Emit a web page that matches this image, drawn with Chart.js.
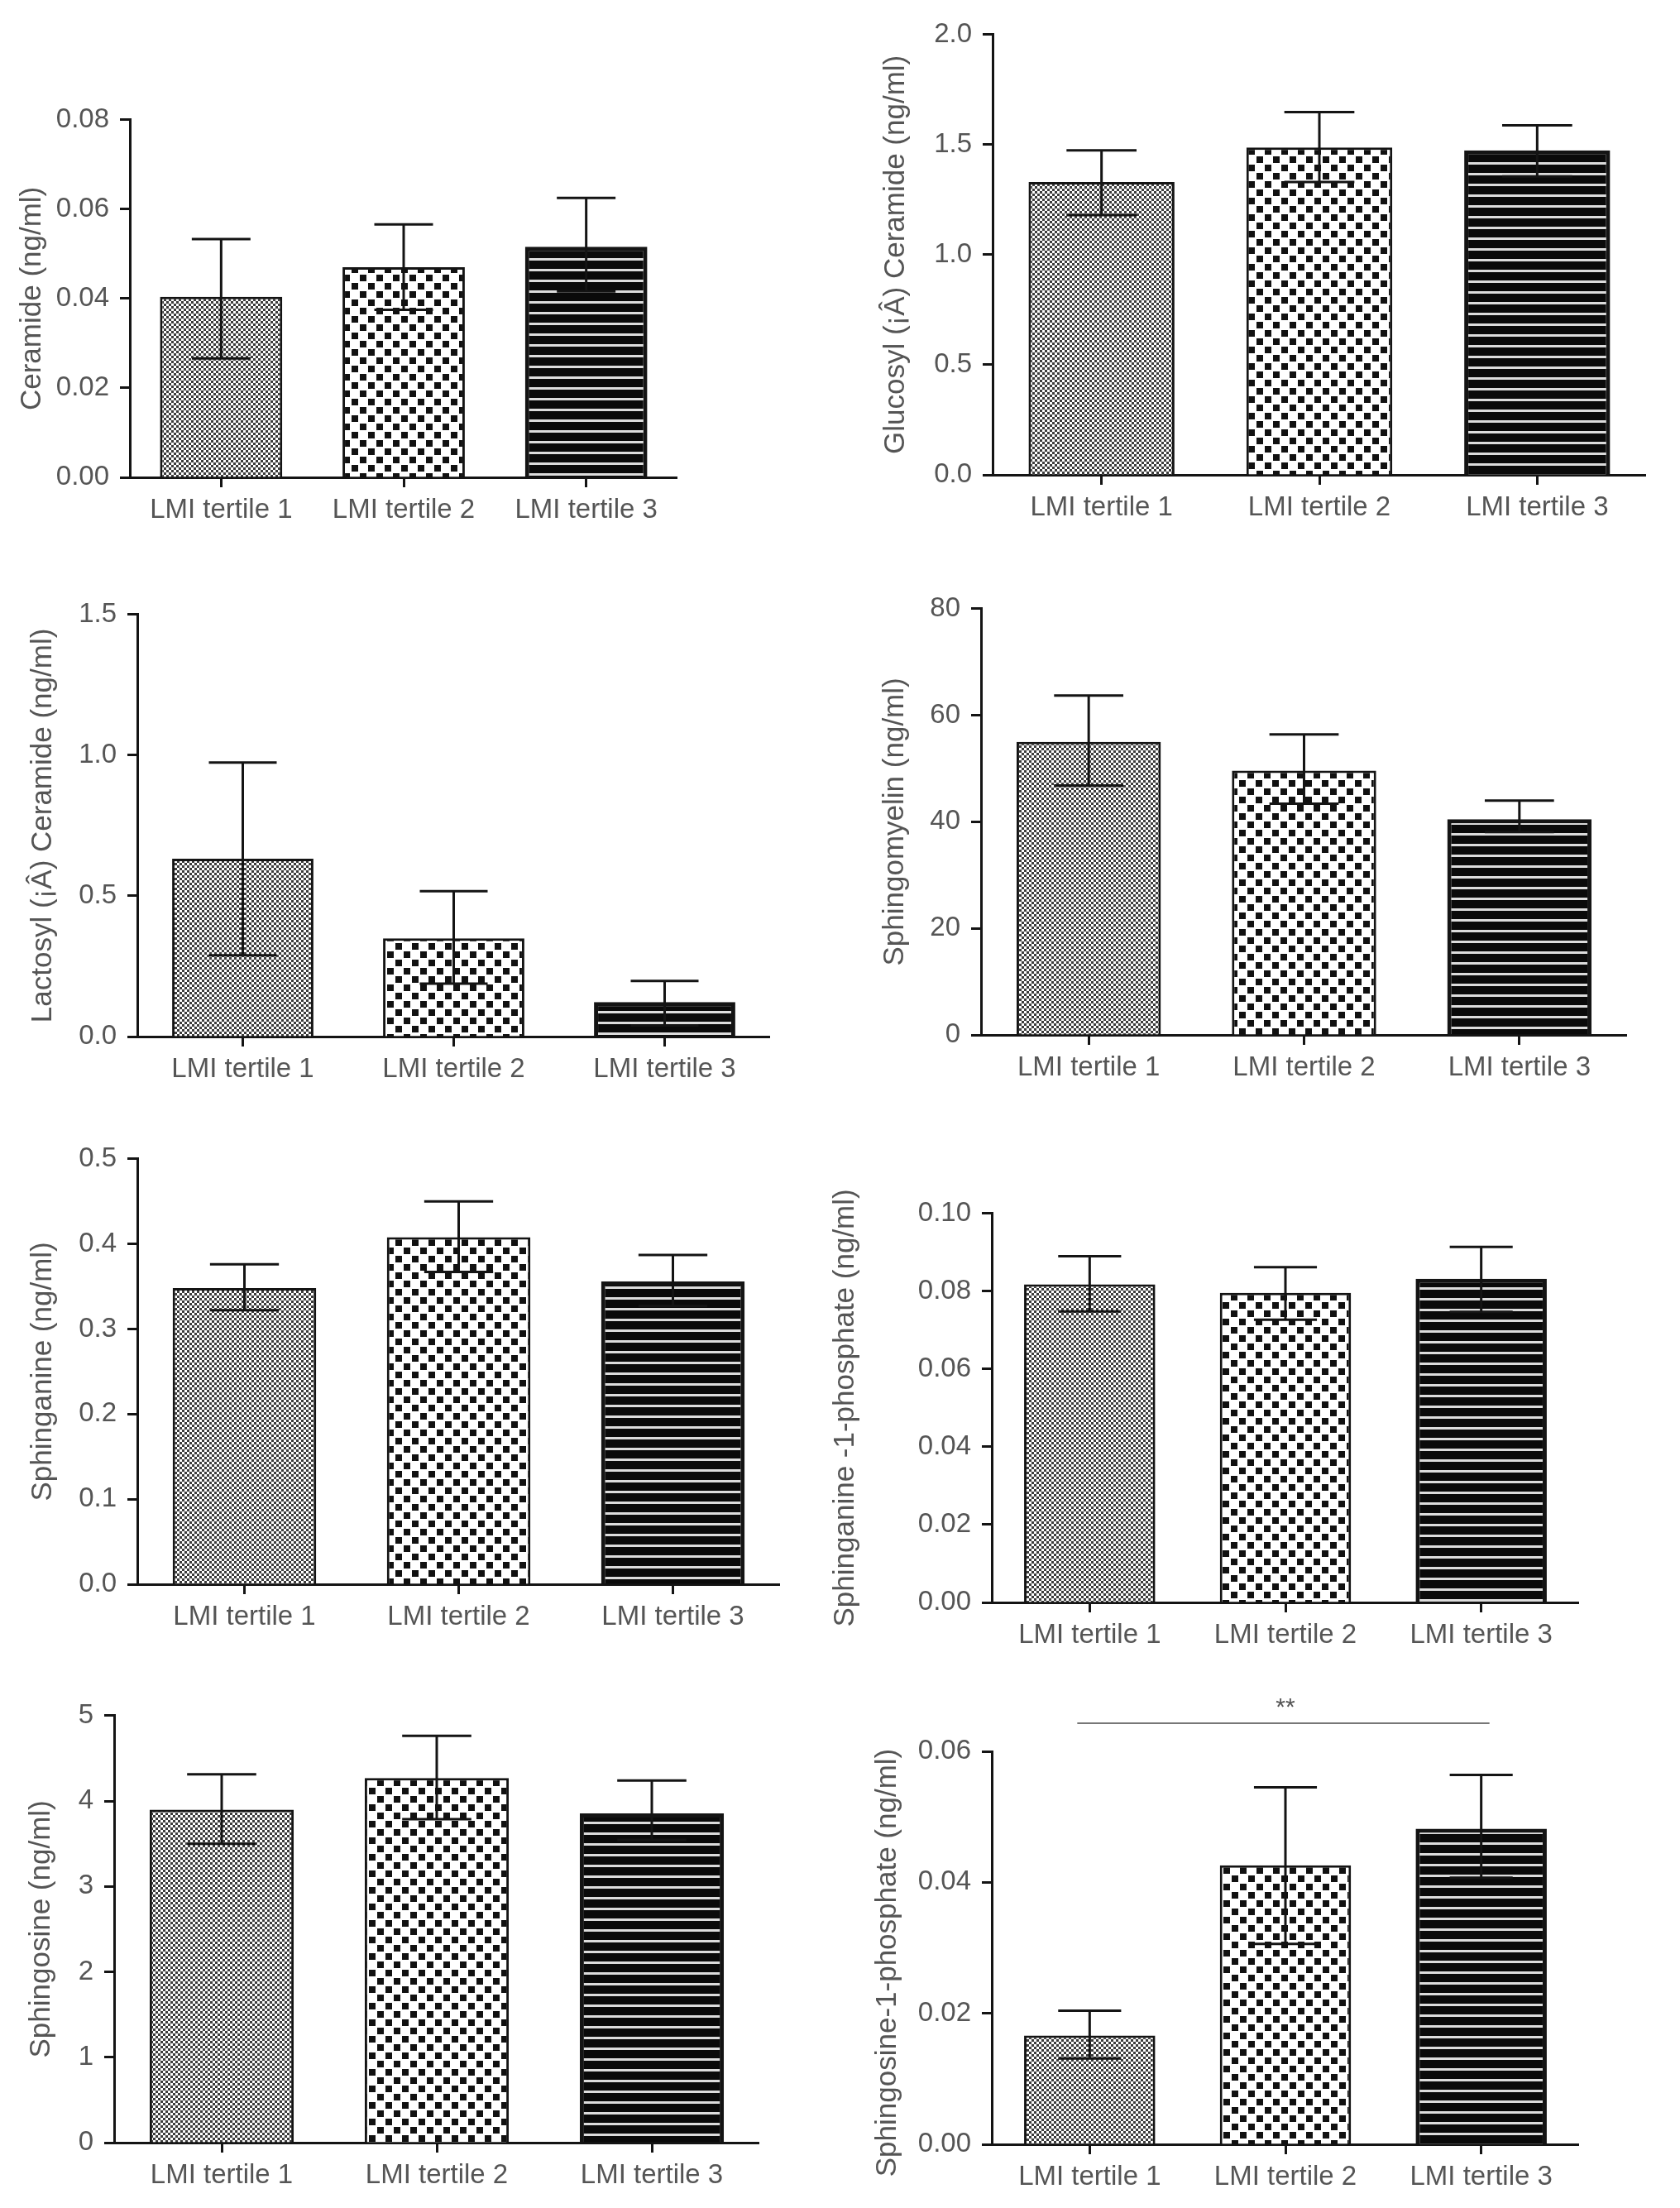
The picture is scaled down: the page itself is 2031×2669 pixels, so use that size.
<!DOCTYPE html>
<html>
<head>
<meta charset="utf-8">
<script src="https://cdn.jsdelivr.net/npm/chart.js@4.4.1/dist/chart.umd.min.js"></script>
<style>
  html, body { margin: 0; padding: 0; background: #fff; }
  body { width: 2031px; height: 2669px; position: relative; overflow: hidden; }
  canvas { position: absolute; }
</style>
</head>
<body>
<script>
// DATOS

const tertiles = ['LMI tertile 1', 'LMI tertile 2', 'LMI tertile 3'];

const ceramideMean = [0.0404, 0.0470, 0.0516];
const ceramideHigh = [0.0533, 0.0566, 0.0625];
const ceramideLow  = [0.0266, 0.0375, 0.0416];
const ceramideTicks = [0, 0.02, 0.04, 0.06, 0.08];
const ceramideTickLabels = ['0.00', '0.02', '0.04', '0.06', '0.08'];

const glucosylMean = [1.330, 1.487, 1.474];
const glucosylHigh = [1.474, 1.648, 1.588];
const glucosylLow  = [1.180, 1.330, 1.356];
const glucosylTicks = [0, 0.5, 1.0, 1.5, 2.0];
const glucosylTickLabels = ['0.0', '0.5', '1.0', '1.5', '2.0'];

const lactosylMean = [0.632, 0.349, 0.123];
const lactosylHigh = [0.974, 0.517, 0.198];
const lactosylLow  = [0.289, 0.188, 0.040];
const lactosylTicks = [0, 0.5, 1.0, 1.5];
const lactosylTickLabels = ['0.0', '0.5', '1.0', '1.5'];

const sphingomyelinMean = [55.0, 49.6, 40.5];
const sphingomyelinHigh = [63.7, 56.4, 44.0];
const sphingomyelinLow  = [46.8, 43.4, 38.1];
const sphingomyelinTicks = [0, 20, 40, 60, 80];
const sphingomyelinTickLabels = ['0', '20', '40', '60', '80'];

const sphinganineMean = [0.348, 0.408, 0.356];
const sphinganineHigh = [0.376, 0.450, 0.387];
const sphinganineLow  = [0.322, 0.367, 0.327];
const sphinganineTicks = [0, 0.1, 0.2, 0.3, 0.4, 0.5];
const sphinganineTickLabels = ['0.0', '0.1', '0.2', '0.3', '0.4', '0.5'];

const sa1pMean = [0.0818, 0.0796, 0.0832];
const sa1pHigh = [0.0890, 0.0862, 0.0914];
const sa1pLow  = [0.0748, 0.0727, 0.0747];
const sa1pTicks = [0, 0.02, 0.04, 0.06, 0.08, 0.10];
const sa1pTickLabels = ['0.00', '0.02', '0.04', '0.06', '0.08', '0.10'];

const sphingosineMean = [3.898, 4.269, 3.854];
const sphingosineHigh = [4.313, 4.762, 4.241];
const sphingosineLow  = [3.500, 3.787, 3.544];
const sphingosineTicks = [0, 1, 2, 3, 4, 5];
const sphingosineTickLabels = ['0', '1', '2', '3', '4', '5'];

const so1pMean = [0.0166, 0.0426, 0.0482];
const so1pHigh = [0.0204, 0.0545, 0.0564];
const so1pLow  = [0.0131, 0.0306, 0.0407];
const so1pTicks = [0, 0.02, 0.04, 0.06];
const so1pTickLabels = ['0.00', '0.02', '0.04', '0.06'];
const so1pSigPair = [0, 2];
const so1pSigLevel = 0.0643;
const so1pSigLabel = '**';

// POSICIONES (px de la figura)

const layouts = [
  { titleX: 39,   axisX: 157,  right: 819,  top: 142,  zero: 577,  padTop: 30 },
  { titleX: 1083, axisX: 1200, right: 1990, top: 39,   zero: 574,  padTop: 30 },
  { titleX: 52,   axisX: 166,  right: 931,  top: 740,  zero: 1253, padTop: 30 },
  { titleX: 1082, axisX: 1186, right: 1967, top: 733,  zero: 1251, padTop: 30 },
  { titleX: 52,   axisX: 166,  right: 943,  top: 1398, zero: 1915, padTop: 30 },
  { titleX: 1022, axisX: 1199, right: 1909, top: 1464, zero: 1937, padTop: 30 },
  { titleX: 50,   axisX: 138,  right: 918,  top: 2071, zero: 2590, padTop: 30 },
  { titleX: 1073, axisX: 1199, right: 1909, top: 2117, zero: 2592, padTop: 90, titleDy: 18 },
];

const TEXT = '#555';
const INK = '#141414';
const FONT = '"Liberation Sans", Arial, Helvetica, sans-serif';
const TITLE_OFF = 24;
const XAXIS_H = 80;

Chart.defaults.font.family = FONT;
Chart.defaults.color = TEXT;

// TRAMAS

function fineDots(ctx) {
  const c = document.createElement('canvas');
  c.width = 6; c.height = 6;
  const g = c.getContext('2d');
  g.fillStyle = '#fff'; g.fillRect(0, 0, 6, 6);
  g.fillStyle = '#3c3c3c';
  g.fillRect(0, 0, 3, 3);
  g.fillRect(3, 3, 3, 3);
  return ctx.createPattern(c, 'repeat');
}

function coarseChecks(ctx) {
  const c = document.createElement('canvas');
  c.width = 20; c.height = 20;
  const g = c.getContext('2d');
  g.fillStyle = '#fff'; g.fillRect(0, 0, 20, 20);
  g.fillStyle = '#111';
  g.fillRect(0, 0, 8, 8);
  g.fillRect(10, 10, 8, 8);
  return ctx.createPattern(c, 'repeat');
}

function stripes(ctx) {
  const c = document.createElement('canvas');
  c.width = 4; c.height = 13;
  const g = c.getContext('2d');
  g.fillStyle = '#0a0a0a'; g.fillRect(0, 0, 4, 13);
  g.fillStyle = '#dcdcdc'; g.fillRect(0, 5, 4, 3);
  return ctx.createPattern(c, 'repeat');
}

// PLUGINS

const errorBars = {
  id: 'errorBars',
  afterDatasetsDraw(chart, args, opts) {
    const { ctx } = chart;
    const y = chart.scales.y;
    const meta = chart.getDatasetMeta(0);
    ctx.save();
    ctx.strokeStyle = INK;
    ctx.lineWidth = 3;
    meta.data.forEach((bar, i) => {
      const hi = y.getPixelForValue(opts.high[i]);
      const lo = y.getPixelForValue(opts.low[i]);
      const half = bar.width * 0.24;
      ctx.beginPath();
      ctx.moveTo(bar.x, lo); ctx.lineTo(bar.x, hi);
      ctx.moveTo(bar.x - half, hi); ctx.lineTo(bar.x + half, hi);
      ctx.moveTo(bar.x - half, lo); ctx.lineTo(bar.x + half, lo);
      ctx.stroke();
    });
    ctx.restore();
  }
};

const yTitle = {
  id: 'yTitle',
  afterDraw(chart, args, opts) {
    const { ctx, chartArea } = chart;
    ctx.save();
    ctx.translate(TITLE_OFF, (chartArea.top + chartArea.bottom) / 2 + (opts.dy || 0));
    ctx.rotate(-Math.PI / 2);
    ctx.font = '35px ' + FONT;
    ctx.fillStyle = TEXT;
    ctx.textAlign = 'center';
    ctx.textBaseline = 'middle';
    ctx.fillText(opts.text, 0, 0);
    ctx.restore();
  }
};

const significance = {
  id: 'significance',
  afterDraw(chart, args, opts) {
    if (!opts.pair) return;
    const { ctx } = chart;
    const x = chart.scales.x, y = chart.scales.y;
    const x1 = x.getPixelForValue(opts.pair[0]);
    const x2 = x.getPixelForValue(opts.pair[1]);
    const yy = y.getPixelForValue(opts.level);
    ctx.save();
    ctx.strokeStyle = '#777';
    ctx.lineWidth = 2;
    ctx.beginPath();
    ctx.moveTo(x1 - 15, yy); ctx.lineTo(x2 + 10, yy);
    ctx.stroke();
    ctx.fillStyle = TEXT;
    ctx.font = '30px ' + FONT;
    ctx.textAlign = 'center';
    ctx.textBaseline = 'middle';
    ctx.fillText(opts.label, (x1 + x2) / 2, yy - 18);
    ctx.restore();
  }
};

// GRÁFICOS

function buildPanel(lay, title, mean, high, low, tickVals, tickLabels, sig) {
  const left = lay.titleX - TITLE_OFF;
  const top = lay.top - lay.padTop;
  const width = lay.right - left;
  const height = lay.zero + XAXIS_H - top;

  const canvas = document.createElement('canvas');
  canvas.width = width; canvas.height = height;
  canvas.style.left = left + 'px';
  canvas.style.top = top + 'px';
  canvas.style.width = width + 'px';
  canvas.style.height = height + 'px';
  document.body.appendChild(canvas);
  const ctx = canvas.getContext('2d');

  return new Chart(ctx, {
    type: 'bar',
    data: {
      labels: tertiles,
      datasets: [{
        data: mean,
        backgroundColor: [fineDots(ctx), coarseChecks(ctx), stripes(ctx)],
        borderColor: INK,
        borderWidth: [3, 3, 5],
        borderSkipped: 'start',
        barPercentage: 0.67,
        categoryPercentage: 1.0,
      }]
    },
    options: {
      responsive: false,
      animation: false,
      devicePixelRatio: 1,
      layout: { padding: { top: lay.padTop, left: 0, right: 0, bottom: 0 } },
      plugins: {
        legend: { display: false },
        tooltip: { enabled: false },
        errorBars: { high: high, low: low },
        yTitle: { text: title, dy: lay.titleDy || 0 },
        significance: sig || {},
      },
      scales: {
        x: {
          offset: true,
          grid: { offset: false, drawOnChartArea: false, drawTicks: true, tickLength: 12, tickWidth: 3, tickColor: INK },
          border: { display: true, color: INK, width: 3 },
          ticks: { font: { size: 33 }, color: TEXT, padding: 8, maxRotation: 0, autoSkip: false },
          afterFit: s => { s.height = XAXIS_H; },
        },
        y: {
          min: tickVals[0],
          max: tickVals[tickVals.length - 1],
          afterBuildTicks: s => { s.ticks = tickVals.map(v => ({ value: v })); },
          grid: { drawOnChartArea: false, drawTicks: true, tickLength: 12, tickWidth: 3, tickColor: INK },
          border: { display: true, color: INK, width: 3 },
          ticks: {
            font: { size: 33 }, color: TEXT, padding: 13, autoSkip: false,
            callback: (v, i) => tickLabels[i],
          },
          afterFit: s => { s.width = lay.axisX - left; },
        }
      }
    },
    plugins: [errorBars, yTitle, significance]
  });
}

buildPanel(layouts[0], 'Ceramide (ng/ml)', ceramideMean, ceramideHigh, ceramideLow, ceramideTicks, ceramideTickLabels);
buildPanel(layouts[1], 'Glucosyl (¡Â) Ceramide (ng/ml)', glucosylMean, glucosylHigh, glucosylLow, glucosylTicks, glucosylTickLabels);
buildPanel(layouts[2], 'Lactosyl (¡Â) Ceramide (ng/ml)', lactosylMean, lactosylHigh, lactosylLow, lactosylTicks, lactosylTickLabels);
buildPanel(layouts[3], 'Sphingomyelin (ng/ml)', sphingomyelinMean, sphingomyelinHigh, sphingomyelinLow, sphingomyelinTicks, sphingomyelinTickLabels);
buildPanel(layouts[4], 'Sphinganine (ng/ml)', sphinganineMean, sphinganineHigh, sphinganineLow, sphinganineTicks, sphinganineTickLabels);
buildPanel(layouts[5], 'Sphinganine -1-phosphate (ng/ml)', sa1pMean, sa1pHigh, sa1pLow, sa1pTicks, sa1pTickLabels);
buildPanel(layouts[6], 'Sphingosine (ng/ml)', sphingosineMean, sphingosineHigh, sphingosineLow, sphingosineTicks, sphingosineTickLabels);
buildPanel(layouts[7], 'Sphingosine-1-phosphate (ng/ml)', so1pMean, so1pHigh, so1pLow, so1pTicks, so1pTickLabels,
  { pair: so1pSigPair, level: so1pSigLevel, label: so1pSigLabel });
</script>
</body>
</html>
